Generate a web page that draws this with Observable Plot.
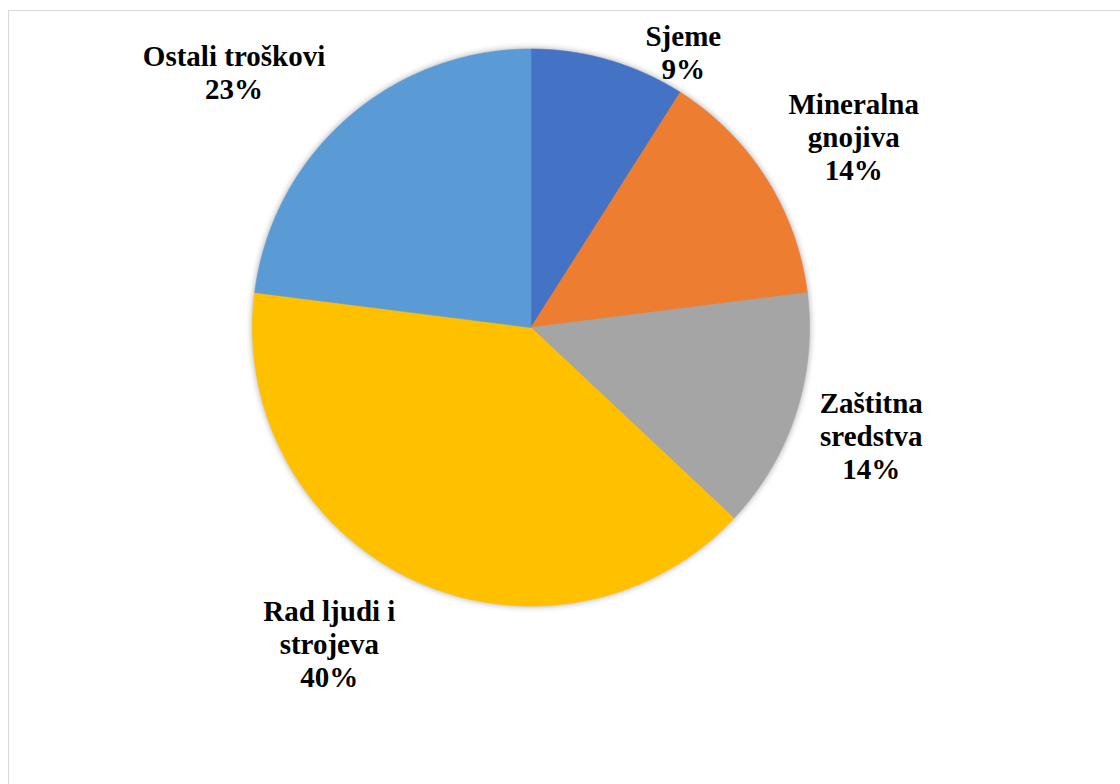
<!DOCTYPE html>
<html>
<head>
<meta charset="utf-8">
<script src="https://cdn.jsdelivr.net/npm/d3@7"></script>
<script src="https://cdn.jsdelivr.net/npm/@observablehq/plot@0.6"></script>
<style>
  html, body { margin: 0; padding: 0; background: #fff; }
  body { width: 1120px; height: 784px; overflow: hidden; position: relative; }
  #frame { position: absolute; left: 8px; top: 10px; width: 1200px; height: 900px; border: 1px solid #d9d9d9; box-sizing: border-box; }
  #chart { position: absolute; left: 0; top: 0; }
  #chart g[aria-label="line"] { filter: drop-shadow(0 0 3px rgba(0,0,0,0.35)); }
</style>
</head>
<body>
<div id="frame"></div>
<div id="chart"></div>
<script>
// ---- data ----
const categories = ["Sjeme", "Mineralna gnojiva", "Zaštitna sredstva", "Rad ljudi i strojeva", "Ostali troškovi"];
const shares = [9, 14, 14, 40, 23];
const labelLines = ["Sjeme", "Mineralna\ngnojiva", "Zaštitna\nsredstva", "Rad ljudi i\nstrojeva", "Ostali troškovi"];

// ---- styles / layout ----
const palette = ["#4472C4", "#ED7D31", "#A5A5A5", "#FFC000", "#5B9BD5"];
const W = 1120, H = 784;
const CX = 530.5, CY = 327, R = 278.5;        // pie centre & radius in px
const labelRadius = 1.33;                     // in pie radii
const labelNudge = [[49, 80], [10, 7], [-12, -7], [-44, -19], [-52, 22]]; // px

const rows = categories.map((name, i) => ({name, share: shares[i], text: labelLines[i] + "\n" + shares[i] + "%"}));
const arcs = d3.pie().sort(null).value(d => d.share)(rows);

// slice polygons in pie units (centre 0,0, radius 1, y up)
const poly = [];
for (const a of arcs) {
  poly.push({name: a.data.name, x: 0, y: 0});
  const n = Math.max(2, Math.ceil((a.endAngle - a.startAngle) / (Math.PI / 360)));
  for (let k = 0; k <= n; k++) {
    const t = a.startAngle + (a.endAngle - a.startAngle) * k / n;
    poly.push({name: a.data.name, x: Math.sin(t), y: Math.cos(t)});
  }
  poly.push({name: a.data.name, x: 0, y: 0});
}

const labels = arcs.map((a, i) => {
  const m = (a.startAngle + a.endAngle) / 2;
  return {name: a.data.name, text: a.data.text, x: labelRadius * Math.sin(m), y: labelRadius * Math.cos(m), i};
});

const textOpts = {
  x: "x", y: "y", text: "text",
  fontFamily: "'Liberation Serif', 'Times New Roman', serif",
  fontWeight: "bold", fontSize: 29, lineHeight: 33 / 29,
  fill: "#000", textAnchor: "middle", lineAnchor: "middle"
};

const chart = Plot.plot({
  width: W, height: H,
  margin: 0,
  style: {background: "transparent", overflow: "visible"},
  x: {domain: [-CX / R, (W - CX) / R], axis: null},
  y: {domain: [-(H - CY) / R, CY / R], axis: null},
  color: {domain: categories, range: palette},
  marks: [
    Plot.line(poly, {x: "x", y: "y", z: "name", fill: "name", stroke: "name", strokeWidth: 0.6, curve: "linear"}),
    ...labels.map(l => Plot.text([l], {...textOpts, dx: labelNudge[l.i][0], dy: labelNudge[l.i][1]}))
  ]
});
document.getElementById("chart").appendChild(chart);
</script>
</body>
</html>
